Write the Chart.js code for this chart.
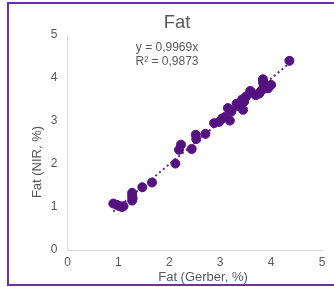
<!DOCTYPE html>
<html>
<head>
<meta charset="utf-8">
<script src="https://cdn.jsdelivr.net/npm/chart.js@4"></script>
<style>
html,body{margin:0;padding:0;background:#fff;}
#wrap{width:334px;height:287px;position:relative;}
</style>
</head>
<body>
<div id="wrap"><canvas id="c" width="334" height="287"></canvas></div>
<script>
const gerber = [0.90,0.97,1.02,1.07,1.10,1.27,1.27,1.27,1.28,1.47,1.66,2.12,2.19,2.23,2.44,2.52,2.53,2.71,2.88,2.98,3.04,3.10,3.15,3.19,3.22,3.32,3.35,3.45,3.43,3.47,3.51,3.59,3.62,3.70,3.77,3.80,3.84,3.84,3.86,3.88,3.94,4.00,4.36];
const nir    = [1.08,1.05,1.02,1.00,1.02,1.33,1.25,1.15,1.20,1.46,1.57,2.01,2.33,2.45,2.35,2.68,2.58,2.70,2.95,2.98,3.06,3.10,3.30,3.01,3.22,3.40,3.35,3.26,3.50,3.45,3.57,3.70,3.66,3.60,3.64,3.70,3.97,3.90,3.82,3.76,3.76,3.84,4.40];
const slope = 0.9969;
const trendX = [0.90, 4.36];
const xTicks = [0,1,2,3,4,5];
const yTicks = [0,1,2,3,4,5];
const titleText = 'Fat';
const eqLines = ['y = 0,9969x', 'R\u00B2 = 0,9873'];
const xTitle = 'Fat (Gerber, %)';
const yTitle = 'Fat (NIR, %)';

const pts = gerber.map((g,i)=>({x:g,y:nir[i]}));
const trend = trendX.map(x=>({x:x,y:slope*x}));
const FONT = "'Liberation Sans', Arial, sans-serif";
const GREY = '#595959';

const deco = {
  id:'deco',
  afterDraw(chart){
    const ctx = chart.ctx, a = chart.chartArea;
    ctx.save();
    ctx.fillStyle = GREY;
    ctx.textAlign = 'center';
    ctx.textBaseline = 'middle';
    ctx.font = '18.5px ' + FONT;
    ctx.fillText(titleText, 177, 23);
    ctx.font = '12px ' + FONT;
    ctx.fillText(eqLines[0], 167, 48);
    ctx.fillText(eqLines[1], 167, 62);
    ctx.font = '13px ' + FONT;
    ctx.fillText(xTitle, 203, 277);
    ctx.translate(37, 162);
    ctx.rotate(-Math.PI/2);
    ctx.fillText(yTitle, 0, 0);
    ctx.restore();
    ctx.save();
    ctx.strokeStyle = '#7030A0';
    ctx.lineWidth = 2;
    ctx.strokeRect(8, 3, 340, 282);
    ctx.restore();
  }
};

new Chart(document.getElementById('c'), {
  type:'scatter',
  data:{datasets:[
    {data:pts, backgroundColor:'#54117f', borderColor:'#54117f', pointRadius:4.5, pointHoverRadius:4.5, order:1},
    {type:'line', data:trend, borderColor:'#6a1f9a', borderWidth:2, borderDash:[2,3], pointRadius:0, fill:false, order:2}
  ]},
  options:{
    responsive:false, animation:false, devicePixelRatio:1,
    layout:{padding:{left:47.5, right:12, top:35, bottom:17}},
    plugins:{legend:{display:false}, tooltip:{enabled:false}, title:{display:false}},
    scales:{
      x:{type:'linear', min:0, max:5,
        afterBuildTicks(s){ s.ticks = xTicks.map(v=>({value:v})); },
        afterFit(s){ s.height = 20; },
        grid:{display:false, drawTicks:false},
        border:{display:true, color:'#d9d9d9', width:1},
        ticks:{color:GREY, font:{family:FONT, size:12}, padding:5}
      },
      y:{type:'linear', min:0, max:5,
        afterBuildTicks(s){ s.ticks = yTicks.map(v=>({value:v})); },
        afterFit(s){ s.width = 20; },
        grid:{display:false, drawTicks:false},
        border:{display:true, color:'#d9d9d9', width:1},
        ticks:{color:GREY, font:{family:FONT, size:12}, padding:10}
      }
    }
  },
  plugins:[deco]
});
</script>
</body>
</html>
